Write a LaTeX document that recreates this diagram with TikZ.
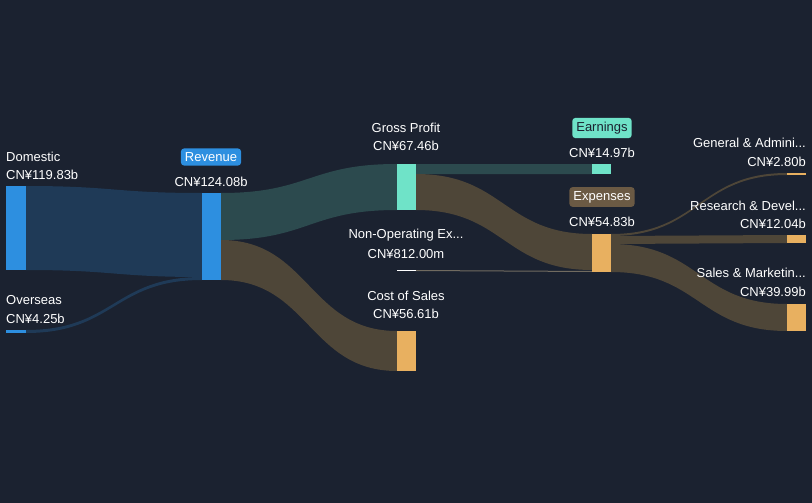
\documentclass[tikz,border=0pt]{standalone}
\usepackage{fontspec}
\setmainfont{Liberation Sans}
\begin{document}
\definecolor{bg}{HTML}{1B2230}
\definecolor{fblue}{HTML}{1F3A57}
\definecolor{fteal}{HTML}{2C4A4E}
\definecolor{fbrown}{HTML}{4E4638}
\definecolor{nblue}{HTML}{2D8FE0}
\definecolor{nteal}{HTML}{6FE3C8}
\definecolor{norange}{HTML}{E8B060}
\definecolor{bbrown}{HTML}{6B5A44}
\newcommand\sflow[7]{%
 \fill[#1] (#2,#3) .. controls ({(#2+#5)/2},#3) and ({(#2+#5)/2},#6) .. (#5,#6)
  -- (#5,#7) .. controls ({(#2+#5)/2},#7) and ({(#2+#5)/2},#4) .. (#2,#4) -- cycle;}
\begin{tikzpicture}[x=1pt,y=-1pt,
  lab/.style={text=white,font=\fontsize{13}{15}\selectfont,inner sep=0pt},
  badge/.style={rounded corners=3pt,inner sep=4pt,font=\fontsize{13}{15}\selectfont}]
\fill[bg] (0,0) rectangle (812,503);
\useasboundingbox (0,0) rectangle (812,503);
% flows
\sflow{fblue}{26}{186}{270}{202}{193}{277}
\sflow{fblue}{26}{330}{333}{202}{277}{280}
\sflow{fteal}{221}{193}{240}{397}{164}{210}
\sflow{fbrown}{221}{240}{280}{397}{331}{371}
\sflow{fteal}{416}{164}{174}{592}{164}{174}
\sflow{fbrown}{416}{174}{210}{592}{234}{270}
\sflow{fbrown!80!white}{416}{270}{271}{592}{271}{272}
\sflow{fbrown}{611}{234}{236}{787}{173}{175}
\sflow{fbrown}{611}{236}{244}{787}{235}{243}
\sflow{fbrown}{611}{244}{272}{787}{304}{331}
% nodes
\fill[nblue] (6,186) rectangle (26,270);
\fill[nblue] (6,330) rectangle (26,333);
\fill[nblue] (202,193) rectangle (221,280);
\fill[nteal] (397,164) rectangle (416,210);
\fill[norange] (397,331) rectangle (416,371);
\fill[white] (397,270) rectangle (416,271);
\fill[nteal] (592,164) rectangle (611,174);
\fill[norange] (592,234) rectangle (611,272);
\fill[norange] (787,173) rectangle (806,175);
\fill[norange] (787,235) rectangle (806,243);
\fill[norange] (787,304) rectangle (806,331);
% labels
\node[lab,anchor=west] (l1) at (6,157) {Domestic};
\node[lab,anchor=west] (v1) at (6,175) {CN¥119.83b};
\node[lab,anchor=west] (l2) at (6,300) {Overseas};
\node[lab,anchor=west] (v2) at (6,319) {CN¥4.25b};
\node[badge,fill=nblue,text=white] (l3) at (211,157) {Revenue};
\node[lab] (v3) at (211,182) {CN¥124.08b};
\node[lab] (l4) at (406,128) {Gross Profit};
\node[lab] (v4) at (406,146) {CN¥67.46b};
\node[badge,fill=nteal,text=bg] (l5) at (602,128) {Earnings};
\node[lab] (v5) at (602,153) {CN¥14.97b};
\node[badge,fill=bbrown,text=white] (l6) at (602,197) {Expenses};
\node[lab] (v6) at (602,222) {CN¥54.83b};
\node[lab] (l7) at (406,235) {Non-Operating Ex...};
\node[lab] (v7) at (406,254) {CN¥812.00m};
\node[lab] (l8) at (406,296) {Cost of Sales};
\node[lab] (v8) at (406,314) {CN¥56.61b};
\node[lab,anchor=east] (l9) at (806,143) {General \& Admini...};
\node[lab,anchor=east] (v9) at (806,162) {CN¥2.80b};
\node[lab,anchor=east] (l10) at (806,206) {Research \& Devel...};
\node[lab,anchor=east] (v10) at (806,224) {CN¥12.04b};
\node[lab,anchor=east] (l11) at (806,273) {Sales \& Marketin...};
\node[lab,anchor=east] (v11) at (806,292) {CN¥39.99b};
\end{tikzpicture}
\end{document}
